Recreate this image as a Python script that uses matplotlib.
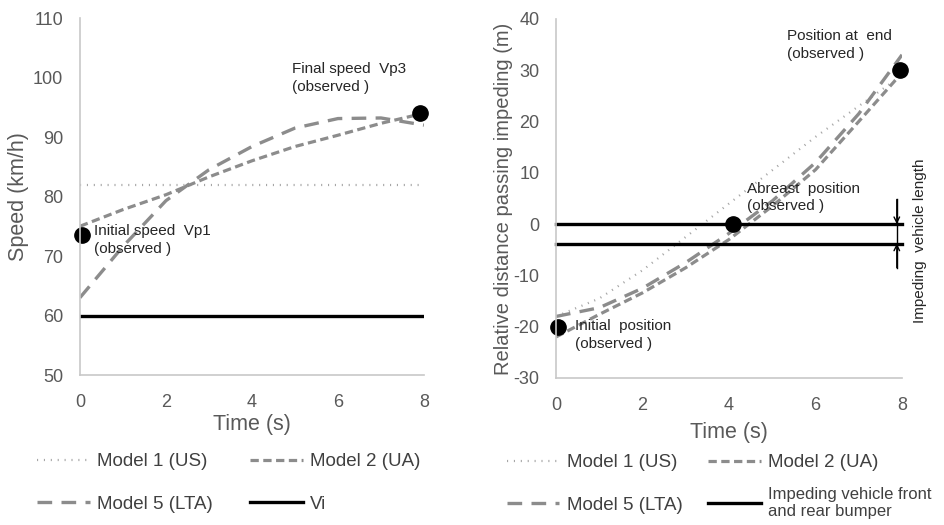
import matplotlib
matplotlib.use("Agg")
import matplotlib.pyplot as plt

plt.rcParams["font.family"] = ["Liberation Sans", "DejaVu Sans"]
plt.rcParams["axes.unicode_minus"] = False

# time axis shared by both panels (s)
time_s = [0, 1, 2, 3, 4, 5, 6, 7, 8]

# left panel: speed (km/h)
speed_m1 = [82, 82, 82, 82, 82, 82, 82, 82, 82]
speed_m2 = [75.0, 77.8, 80.3, 83.3, 86.0, 88.4, 90.3, 92.3, 94.0]
speed_m5 = [63.0, 71.6, 79.3, 84.5, 88.4, 91.5, 93.1, 93.2, 92.0]
speed_vi = [60, 60, 60, 60, 60, 60, 60, 60, 60]
speed_obs_t = [0.05, 7.9]
speed_obs = [73.5, 94.0]

# right panel: relative distance (m)
pos_m1 = [-18.0, -14.5, -9.0, -2.5, 4.0, 10.5, 17.0, 23.0, 29.0]
pos_m2 = [-22.0, -17.6, -13.4, -8.5, -3.0, 3.5, 10.6, 20.0, 29.5]
pos_m5 = [-18.0, -16.3, -12.5, -7.5, -1.8, 4.5, 12.0, 21.5, 33.0]
bumper_front = [0, 0, 0, 0, 0, 0, 0, 0, 0]
bumper_rear = [-3.8, -3.8, -3.8, -3.8, -3.8, -3.8, -3.8, -3.8, -3.8]
pos_obs_t = [0.05, 4.1, 7.95]
pos_obs = [-20.0, 0.0, 30.0]

grey = "#8c8c8c"
light = "#a6a6a6"
tick_col = "#595959"
text_col = "#262626"

sty_m1 = dict(color=light, lw=1.6, linestyle=(0, (0.5, 2.6)))
sty_m2 = dict(color=grey, lw=2.3, linestyle=(0, (2.6, 1.4)))
sty_m5 = dict(color=grey, lw=2.4, linestyle=(0, (4.4, 2.8)))
sty_k = dict(color="black", lw=2.4)

fig = plt.figure(figsize=(9.44, 5.25), dpi=100)
ax1 = fig.add_axes([0.0847, 0.2857, 0.3644, 0.68])
ax2 = fig.add_axes([0.589, 0.28, 0.3665, 0.684])

for ax in (ax1, ax2):
    for s in ("top", "right"):
        ax.spines[s].set_visible(False)
    for s in ("left", "bottom"):
        ax.spines[s].set_color("#c8c8c8")
        ax.spines[s].set_linewidth(1.2)
    ax.tick_params(length=0, labelsize=13, labelcolor=tick_col)
    ax.tick_params(axis="x", pad=14)
    ax.tick_params(axis="y", pad=12)
    ax.set_xlim(0, 8)
    ax.set_xticks([0, 2, 4, 6, 8])


def col_legend(handles, x, y, spacing=1.36, size=13.5):
    leg = fig.legend(handles=handles, loc="upper left", bbox_to_anchor=(x, y),
                     bbox_transform=fig.transFigure, frameon=False, fontsize=size,
                     labelcolor="#404040", handlelength=2.8, handletextpad=0.4,
                     labelspacing=spacing, borderpad=0, borderaxespad=0)
    return leg


# ---- left panel
l1, = ax1.plot(time_s, speed_m1, label="Model 1 (US)", **sty_m1)
l2, = ax1.plot(time_s, speed_m2, label="Model 2 (UA)", **sty_m2)
l5, = ax1.plot(time_s, speed_m5, label="Model 5 (LTA)", **sty_m5)
lv, = ax1.plot(time_s, speed_vi, label="Vi", **sty_k)
ax1.plot(speed_obs_t, speed_obs, "o", color="black", ms=11, clip_on=False)
ax1.set_ylim(50, 110)
ax1.set_yticks(range(50, 111, 10))
ax1.set_ylabel("Speed (km/h)", fontsize=15.5, color=tick_col, labelpad=3)
ax1.set_xlabel("Time (s)", fontsize=15.5, color=tick_col, labelpad=2)
ax1.text(0.33, 75.3, "Initial speed  Vp1\n(observed )", fontsize=11,
         color=text_col, va="top", linespacing=1.35)
ax1.text(4.93, 102.6, "Final speed  Vp3\n(observed )", fontsize=11,
         color=text_col, va="top", linespacing=1.35)

row_top = 1 - 453 / 525
col_legend([l1, l5], 37 / 944, row_top)
col_legend([l2, lv], 250 / 944, row_top)

# ---- right panel
m1, = ax2.plot(time_s, pos_m1, label="Model 1 (US)", **sty_m1)
m2, = ax2.plot(time_s, pos_m2, label="Model 2 (UA)", **sty_m2)
m5, = ax2.plot(time_s, pos_m5, label="Model 5 (LTA)", **sty_m5)
mb, = ax2.plot(time_s, bumper_front, label="Impeding vehicle front\nand rear bumper",
               clip_on=False, **sty_k)
ax2.plot(time_s, bumper_rear, clip_on=False, **sty_k)
ax2.plot(pos_obs_t, pos_obs, "o", color="black", ms=11, clip_on=False)
ax2.set_ylim(-30, 40)
ax2.set_yticks(range(-30, 41, 10))
ax2.set_ylabel("Relative distance passing impeding (m)", fontsize=14.5,
               color=tick_col, labelpad=0)
ax2.set_xlabel("Time (s)", fontsize=15.5, color=tick_col, labelpad=5.5)
ax2.text(0.44, -18.5, "Initial  position\n(observed )", fontsize=11,
         color=text_col, va="top", linespacing=1.35)
ax2.text(4.42, 8.3, "Abreast  position\n(observed )", fontsize=11,
         color=text_col, va="top", linespacing=1.35)
ax2.text(5.34, 38.0, "Position at  end\n(observed )", fontsize=11,
         color=text_col, va="top", linespacing=1.35)

# vehicle length marker
xm = 7.88
ax2.plot([xm, xm], [4.8, -8.5], color="black", lw=1, clip_on=False)
ax2.annotate("", xy=(xm, 0), xytext=(xm, 4.8),
             arrowprops=dict(arrowstyle="->", color="black", lw=1, shrinkA=0, shrinkB=0),
             annotation_clip=False)
ax2.annotate("", xy=(xm, -3.8), xytext=(xm, -8.5),
             arrowprops=dict(arrowstyle="->", color="black", lw=1, shrinkA=0, shrinkB=0),
             annotation_clip=False)
ax2.text(8.42, -3.3, "Impeding  vehicle length", rotation=90, fontsize=11,
         color=text_col, ha="center", va="center", clip_on=False)

row_top_r = 1 - 454 / 525
col_legend([m1, m5], 507 / 944, row_top_r)
leg = col_legend([m2, mb], 708 / 944, row_top_r, spacing=0.85)
leg.get_texts()[1].set_fontsize(12)

fig.savefig("out.png", dpi=100)
